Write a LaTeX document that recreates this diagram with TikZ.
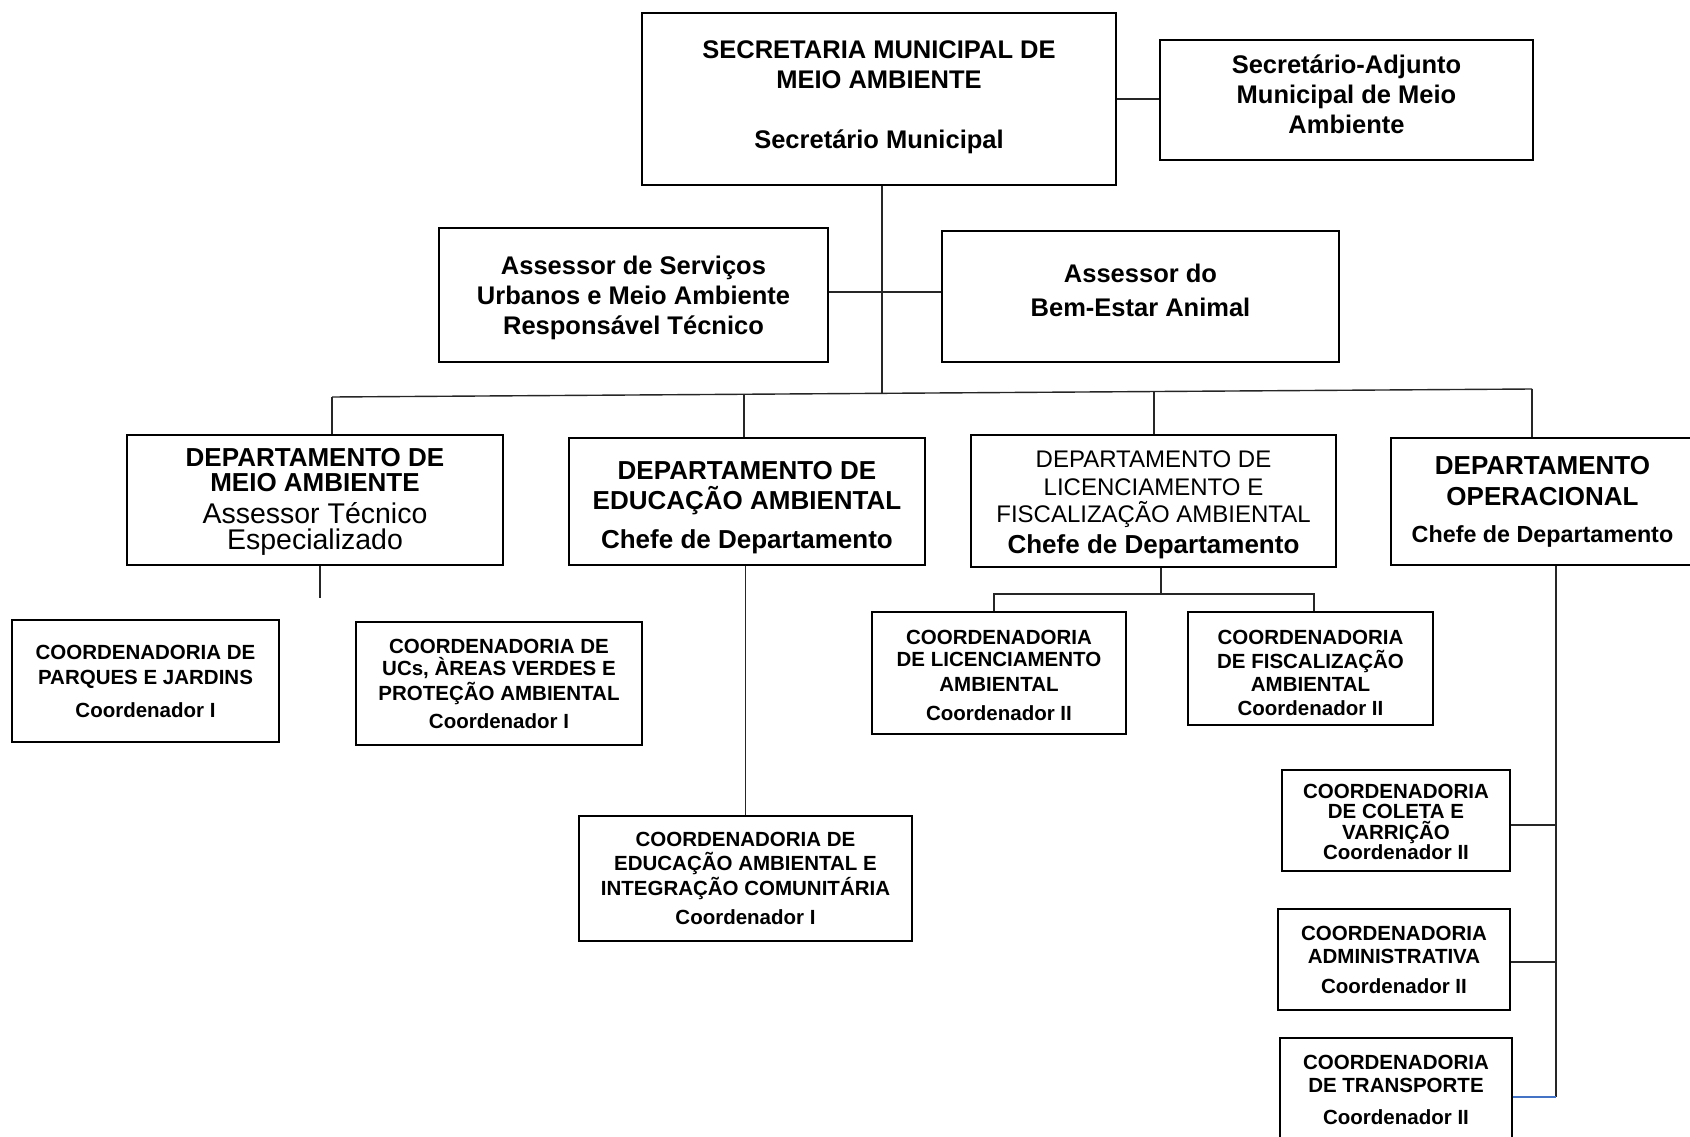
\documentclass[tikz,border=0pt]{standalone}
\usepackage{fontspec}
\setmainfont{Liberation Sans}
\newcommand{\myfb}[2]{\fontsize{#1}{#2}\selectfont\bfseries}
\newcommand{\myfr}[2]{\fontsize{#1}{#2}\selectfont\mdseries}
\newcommand{\topx}[1]{\rule{0pt}{#1}}
\newcommand{\botx}[1]{\rule[-#1]{0pt}{0pt}}
\definecolor{linkblue}{HTML}{4472C4}
\begin{document}
\begin{tikzpicture}[x=1pt,y=-1pt,
  box/.style={draw=black, line width=1.4pt, inner sep=0pt, align=center},
  conn/.style={line width=1.4pt, draw=black!85},
  coordbox/.style={box, font=\myfb{20.5}{#1}},
  coordbox/.default=23]
\useasboundingbox (0,0) rectangle (1690,1137);
\fill[white] (0,0) rectangle (1690,1137);

% top level
\node[box, minimum width=474pt, minimum height=172pt, font=\myfb{25.5}{30}] (sec) at (879,99)
  {SECRETARIA MUNICIPAL DE\\MEIO AMBIENTE\\[30pt]Secretário Municipal\botx{9.4pt}};
\node[box, minimum width=373pt, minimum height=120pt, font=\myfb{25.5}{30}] (adj) at (1346.5,100)
  {Secretário-Adjunto\\Municipal de Meio\\Ambiente\botx{10.8pt}};
\node[box, minimum width=389pt, minimum height=134pt, font=\myfb{25.5}{30}] (serv) at (633.5,295)
  {\topx{25pt}Assessor de Serviços\\Urbanos e Meio Ambiente\\Responsável Técnico};
\node[box, minimum width=397pt, minimum height=131pt, font=\myfb{25.5}{34}] (bem) at (1140.5,296.5)
  {Assessor do\\Bem-Estar Animal\botx{13pt}};

% departments
\node[box, minimum width=376pt, minimum height=130pt, font=\myfb{26}{25}] (dma) at (315,500)
  {\topx{22.3pt}DEPARTAMENTO DE\\MEIO AMBIENTE\\[7pt]\myfr{28.5}{26}Assessor Técnico\\[1pt]\myfr{28.5}{26}Especializado};
\node[box, minimum width=356pt, minimum height=127pt, font=\myfb{26}{30}] (ded) at (747,501.5)
  {\topx{30.9pt}DEPARTAMENTO DE\\EDUCAÇÃO AMBIENTAL\\[9pt]Chefe de Departamento};
\node[box, minimum width=365pt, minimum height=132pt, font=\myfr{24}{27.5}] (dlic) at (1153.5,501)
  {\topx{25.1pt}DEPARTAMENTO DE\\LICENCIAMENTO E\\FISCALIZAÇÃO AMBIENTAL\\[3.5pt]\myfb{26}{27.5}Chefe de Departamento};
\node[box, minimum width=303pt, minimum height=127pt, font=\myfb{26}{31}] (dop) at (1542.5,501.5)
  {DEPARTAMENTO\\OPERACIONAL\\[6pt]\myfb{23.3}{31}Chefe de Departamento};

% coordinations
\node[coordbox=25, minimum width=267pt, minimum height=122pt] (par) at (145.5,681)
  {COORDENADORIA DE\\PARQUES E JARDINS\\[8pt]Coordenador I};
\node[coordbox=23, minimum width=286pt, minimum height=123pt] (ucs) at (499,683.5)
  {COORDENADORIA DE\\[-1pt]UCs, ÀREAS VERDES E\\[2pt]PROTEÇÃO AMBIENTAL\\[5pt]Coordenador I};
\node[coordbox=24, minimum width=333pt, minimum height=125pt] (edc) at (745.5,878.5)
  {COORDENADORIA DE\\[-0.5pt]EDUCAÇÃO AMBIENTAL E\\[1pt]INTEGRAÇÃO COMUNITÁRIA\\[5pt]Coordenador I};
\node[coordbox=23, minimum width=254pt, minimum height=122pt] (lic) at (999,673)
  {\topx{19.5pt}COORDENADORIA\\[-0.5pt]DE LICENCIAMENTO\\[1.5pt]AMBIENTAL\\[6.5pt]Coordenador II};
\node[coordbox=23.5, minimum width=245pt, minimum height=113pt] (fis) at (1310.5,668.5)
  {\topx{22.7pt}COORDENADORIA\\DE FISCALIZAÇÃO\\AMBIENTAL\\Coordenador II};
\node[coordbox=20.5, minimum width=228pt, minimum height=101pt] (col) at (1396,820.5)
  {\topx{17.3pt}COORDENADORIA\\DE COLETA E\\VARRIÇÃO\\Coordenador II};
\node[coordbox=23, minimum width=232pt, minimum height=101pt] (adm) at (1394,959.5)
  {COORDENADORIA\\ADMINISTRATIVA\\[7pt]Coordenador II};
\node[coordbox=23, minimum width=232pt, minimum height=103pt] (tra) at (1396,1089.5)
  {COORDENADORIA\\DE TRANSPORTE\\[9pt]Coordenador II};

% helper coordinates
\coordinate (j) at (882,393);
\coordinate (bl) at (332,397);
\coordinate (br) at (1532,389);
\coordinate (b2) at (744,394.3);
\coordinate (b3) at (1154,391.5);
\coordinate (stub) at (320,598);
\coordinate (lj) at (1161,594);
\coordinate (dv) at (1556,1097);

% connectors
\draw[conn] (sec.east) -- (sec.east -| adj.west);
\draw[conn] (sec.south -| j) -- (j);
\draw[conn] (serv.east |- 0,292) -- (bem.west |- 0,292);
\draw[conn] (bl) -- (br);
\draw[conn] (bl) -- (dma.north -| bl);
\draw[conn] (b2) -- (ded.north -| b2);
\draw[conn] (b3) -- (dlic.north -| b3);
\draw[conn] (br) -- (dop.north -| br);
\draw[conn] (dma.south -| stub) -- (stub);
\draw[conn] (ded.south -| edc.north) -- (edc.north);
\draw[conn] (dlic.south -| lj) -- (lj);
\draw[conn] (lic.north -| 994,0) |- (lj) -| (fis.north -| 1314,0);
\draw[conn] (dop.south -| dv) -- (dv);
\draw[conn] (col.east |- 0,825) -- (dv |- 0,825);
\draw[conn] (adm.east |- 0,962) -- (dv |- 0,962);
\draw[line width=1.4pt, draw=linkblue] (tra.east |- dv) -- (dv);
\end{tikzpicture}
\end{document}
